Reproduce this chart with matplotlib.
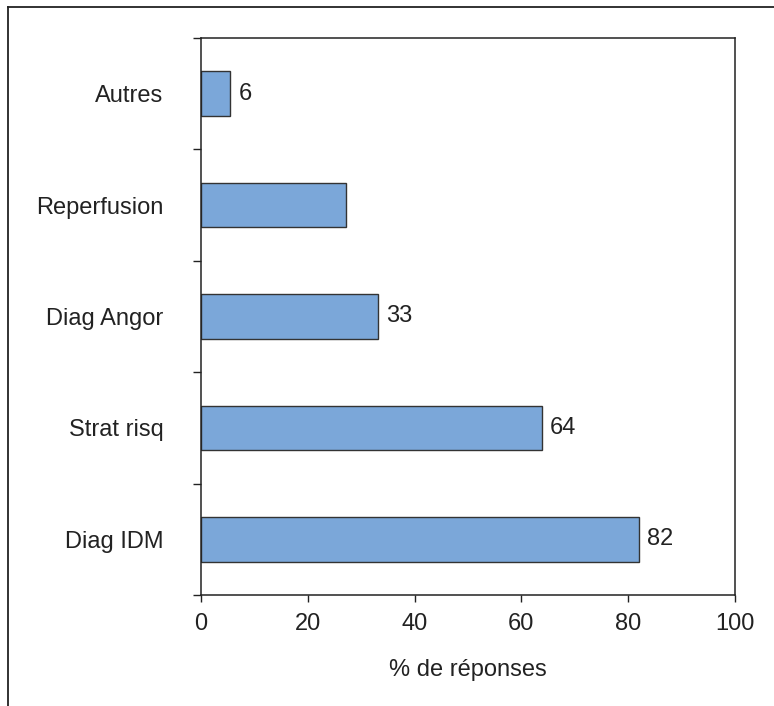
import matplotlib
matplotlib.use("Agg")
import matplotlib.pyplot as plt
from matplotlib.lines import Line2D
import numpy as np

# données (bas -> haut)
categories = ["Diag IDM", "Strat risq", "Diag Angor", "Reperfusion", "Autres"]
valeurs = [82, 63.8, 33.1, 27.2, 5.4]
etiquettes = ["82", "64", "33", "", "6"]
x_ticks = [0, 20, 40, 60, 80, 100]

plt.rcParams["font.family"] = ["Liberation Sans", "DejaVu Sans"]
TXT = "#222222"
FS = 17

fig = plt.figure(figsize=(7.74, 7.06), dpi=100)
ax = fig.add_axes([0.2597, 0.1572, 0.6899, 0.7890])

# cadre extérieur (gauche + haut seulement)
fig.add_artist(Line2D([0.0097, 0.0097], [0.0, 0.9901], transform=fig.transFigure,
                      color="#222222", lw=1.3))
fig.add_artist(Line2D([0.0097, 1.0], [0.9901, 0.9901], transform=fig.transFigure,
                      color="#222222", lw=1.3))

y = np.arange(len(categories))
ax.barh(y, valeurs, height=0.4, color="#7ba7d9", edgecolor="#333333", lw=1.0, zorder=2)

for yi, v, lab in zip(y, valeurs, etiquettes):
    if lab:
        ax.text(v + 1.6, yi, lab, va="center", ha="left", fontsize=FS, color=TXT)

ax.set_xlim(0, 100)
ax.set_ylim(-0.5, len(categories) - 0.5)
ax.set_xticks(x_ticks)
ax.set_xticklabels([str(t) for t in x_ticks], fontsize=FS, color=TXT)

# graduations y aux limites des catégories, étiquettes au centre
ax.set_yticks(np.arange(-0.5, len(categories), 1.0))
ax.set_yticklabels([])
ax.set_yticks(y, minor=True)
ax.set_yticklabels(categories, minor=True, fontsize=FS, color=TXT)
ax.tick_params(axis="y", which="minor", length=0, pad=27)
ax.tick_params(axis="y", which="major", length=6, width=1.0, color="#222222")
ax.tick_params(axis="x", length=5, width=1.0, color="#222222", pad=8)

for s in ax.spines.values():
    s.set_color("#222222")
    s.set_linewidth(1.1)

ax.set_xlabel("% de réponses", fontsize=FS, color=TXT, labelpad=17)

fig.savefig("out.png", dpi=100)
